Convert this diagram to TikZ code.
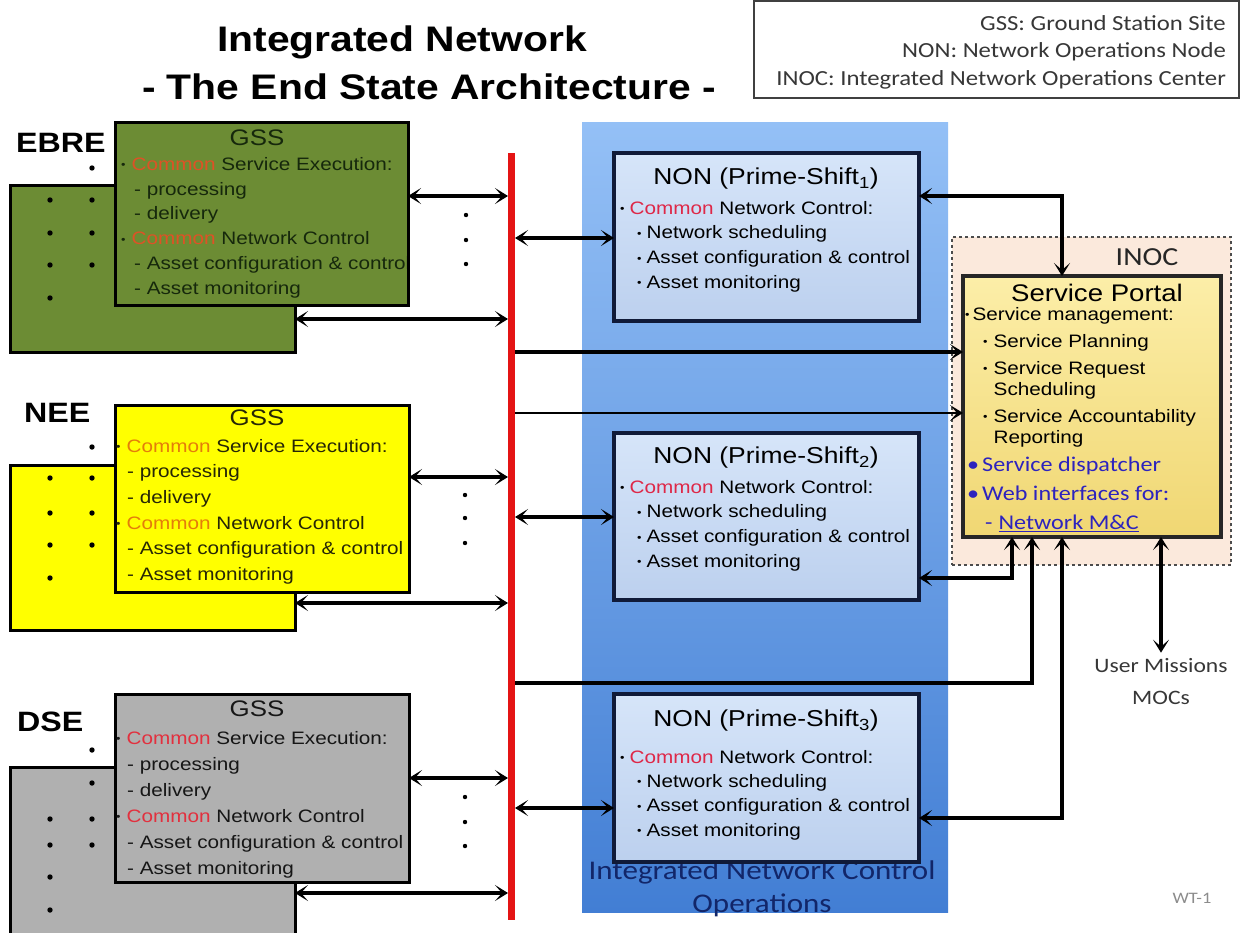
\documentclass[tikz,border=0pt]{standalone}
\usepackage{fontspec}
\setmainfont{Liberation Sans}[FakeStretch=1.15]
\newfontfamily\carl{Carlito}[FakeStretch=1.15]
\usetikzlibrary{arrows.meta,calc}
\definecolor{gssgreen}{RGB}{108,140,52}
\definecolor{gssyellow}{RGB}{255,255,0}
\definecolor{gssgray}{RGB}{176,176,176}
\definecolor{busred}{RGB}{228,20,20}
\definecolor{paneltop}{RGB}{148,192,246}
\definecolor{panelbot}{RGB}{66,126,212}
\definecolor{nontop}{RGB}{214,229,249}
\definecolor{nonbot}{RGB}{188,208,238}
\definecolor{nonedge}{RGB}{16,26,56}
\definecolor{inocfill}{RGB}{251,233,220}
\definecolor{porttop}{RGB}{252,238,168}
\definecolor{portbot}{RGB}{240,215,115}
\definecolor{linkblue}{RGB}{45,35,190}
\definecolor{panelink}{RGB}{18,38,105}
\definecolor{cmnA}{RGB}{222,82,38}
\definecolor{cmnB}{RGB}{228,125,10}
\definecolor{cmnC}{RGB}{226,48,62}
\definecolor{cmnN}{RGB}{222,40,72}
\definecolor{txtA}{RGB}{22,40,12}
\definecolor{txtB}{RGB}{38,38,6}
\definecolor{txtC}{RGB}{22,22,22}
\definecolor{greytxt}{RGB}{55,55,55}
\newcommand{\bul}{\raisebox{1.6pt}{\fontsize{11}{11}\selectfont\textbullet}}
\newcommand{\cmn}[1]{\textcolor{#1}{Common}}
\begin{document}
\begin{tikzpicture}[x=1pt,y=-1pt,
  box/.style={anchor=north west,inner sep=0pt,outer sep=0pt},
  gssbox/.style={box,draw=black,line width=3pt},
  nonbox/.style={box,draw=nonedge,line width=3.4pt,top color=nontop,bottom color=nonbot},
  gsstxt/.style={anchor=north west,align=left,inner sep=0pt},
  tip/.tip={Stealth[length=13pt,width=16pt,inset=7pt]},
  link/.style={line width=3.2pt,-tip},
  dlink/.style={line width=3.2pt,tip-tip},
  dotm/.style={fill=black}]
\useasboundingbox (0,0) rectangle (1247,932);
\fill[white] (0,0) rectangle (1247,932);

% blue panel
\node[box,minimum width=366pt,minimum height=790pt,top color=paneltop,bottom color=panelbot] (panel) at (582,122) {};
\node[font=\carl\fontsize{27}{33}\selectfont,text=panelink,align=center,inner sep=0pt] (ptext) at (762,889) {Integrated Network Control\\Operations};

% INOC
\node[box,draw=black!70,dashed,line width=1.3pt,fill=inocfill,minimum width=279pt,minimum height=328pt] (inoc) at (952,237) {};
\node[font=\carl\fontsize{26}{30}\selectfont,text=black!85] (inoclbl) at (1147,257) {INOC};

% legend
\node[box,draw=black!75,line width=1.5pt,minimum width=485pt,minimum height=97pt] (legend) at (754,1) {};
\node[anchor=north east,align=right,inner sep=0pt,font=\carl\fontsize{21.5}{27.5}\selectfont,text=greytxt] (legtxt) at (1226,15) {GSS: Ground Station Site\\NON: Network Operations Node\\INOC: Integrated Network Operations Center};

% title
\node[font=\bfseries\fontsize{35.5}{40}\selectfont] (title1) at (402,42) {Integrated Network};
\node[font=\bfseries\fontsize{35.5}{40}\selectfont] (title2) at (429,87) {- The End State Architecture -};

% labels
\node[anchor=west,inner sep=0pt,font=\bfseries\fontsize{28}{30}\selectfont] (ebre) at (16,143) {EBRE};
\node[anchor=west,inner sep=0pt,font=\bfseries\fontsize{28}{30}\selectfont] (nee) at (24,413) {NEE};
\node[anchor=west,inner sep=0pt,font=\bfseries\fontsize{28}{30}\selectfont] (dse) at (17,722) {DSE};

% bus
\node[anchor=north,inner sep=0pt,outer sep=0pt,fill=busred,minimum width=7pt,minimum height=767pt] (bus) at (511.5,153) {};

% GSS back boxes
\node[gssbox,fill=gssgreen,minimum width=285pt,minimum height=167pt] (ebreB) at (10,185) {};
\node[gssbox,fill=gssyellow,minimum width=285pt,minimum height=165pt] (neeB) at (10,465) {};
\node[gssbox,fill=gssgray,minimum width=285pt,minimum height=172pt] (dseB) at (10,767) {};

% dots
\foreach \p in {(92,168),(50,200),(92,200),(50,233),(92,233),(50,265),(92,265),(50,298),
                (92,447),(50,478),(92,478),(50,513),(92,513),(50,545),(92,545),(50,578),
                (92,750),(92,783),(50,819),(92,819),(50,845),(92,845),(50,877),(50,910)}
  \fill[dotm] \p circle (2.7);
\foreach \p in {(466,215),(466,240),(466,264),(465,495),(465,518),(465,543),(465,797),(465,822),(465,846)}
  \fill[dotm] \p circle (2.2);

% GSS front boxes
\node[gssbox,fill=gssgreen,minimum width=293pt,minimum height=183pt] (ebreF) at (115,122) {};
\node[gssbox,fill=gssyellow,minimum width=294pt,minimum height=187pt] (neeF) at (115,405) {};
\node[gssbox,fill=gssgray,minimum width=294pt,minimum height=188pt] (dseF) at (115,694) {};

\node[font=\fontsize{22.5}{26}\selectfont,text=txtA,inner sep=0pt] (ebreT) at (257,138) {GSS};
\node[font=\fontsize{22.5}{26}\selectfont,text=txtB,inner sep=0pt] (neeT) at (257,418) {GSS};
\node[font=\fontsize{22.5}{26}\selectfont,text=txtC,inner sep=0pt] (dseT) at (257,709) {GSS};

\begin{scope}
\clip (116,123) rectangle (406.5,304);
\node[gsstxt,font=\fontsize{18}{24.8}\selectfont,text=txtA] (ebreL) at (121,157)
 {\bul\hspace{6pt}\cmn{cmnA} Service Execution:\\\hspace*{13pt}- processing\\\hspace*{13pt}- delivery\\
  \bul\hspace{6pt}\cmn{cmnA} Network Control\\\hspace*{13pt}- Asset configuration \& control\\\hspace*{13pt}- Asset monitoring};
\end{scope}
\node[gsstxt,font=\fontsize{18}{25.6}\selectfont,text=txtB] (neeL) at (116,439)
 {\bul\hspace{6pt}\cmn{cmnB} Service Execution:\\\hspace*{11pt}- processing\\\hspace*{11pt}- delivery\\
  \bul\hspace{6pt}\cmn{cmnB} Network Control\\\hspace*{11pt}- Asset configuration \& control\\\hspace*{11pt}- Asset monitoring};
\node[gsstxt,font=\fontsize{18}{26}\selectfont,text=txtC] (dseL) at (116,731)
 {\bul\hspace{6pt}\cmn{cmnC} Service Execution:\\\hspace*{11pt}- processing\\\hspace*{11pt}- delivery\\
  \bul\hspace{6pt}\cmn{cmnC} Network Control\\\hspace*{11pt}- Asset configuration \& control\\\hspace*{11pt}- Asset monitoring};

% NON boxes
\node[nonbox,minimum width=305pt,minimum height=168pt] (non1) at (614,153) {};
\node[nonbox,minimum width=305pt,minimum height=167pt] (non2) at (614,433) {};
\node[nonbox,minimum width=305pt,minimum height=168pt] (non3) at (614,694) {};
\node[font=\fontsize{23}{26}\selectfont,inner sep=0pt] (non1t) at (766,179) {NON (Prime-Shift\textsubscript{1})};
\node[font=\fontsize{23}{26}\selectfont,inner sep=0pt] (non2t) at (766,458) {NON (Prime-Shift\textsubscript{2})};
\node[font=\fontsize{23}{26}\selectfont,inner sep=0pt] (non3t) at (766,721) {NON (Prime-Shift\textsubscript{3})};
\node[gsstxt,font=\fontsize{18}{24.7}\selectfont] (non1l) at (620,201)
 {\bul\hspace{5pt}\cmn{cmnN} Network Control:\\\hspace*{17pt}\bul\hspace{5pt}Network scheduling\\\hspace*{17pt}\bul\hspace{5pt}Asset configuration \& control\\\hspace*{17pt}\bul\hspace{5pt}Asset monitoring};
\node[gsstxt,font=\fontsize{18}{24.7}\selectfont] (non2l) at (620,480)
 {\bul\hspace{5pt}\cmn{cmnN} Network Control:\\\hspace*{17pt}\bul\hspace{5pt}Network scheduling\\\hspace*{17pt}\bul\hspace{5pt}Asset configuration \& control\\\hspace*{17pt}\bul\hspace{5pt}Asset monitoring};
\node[gsstxt,font=\fontsize{18}{24.3}\selectfont] (non3l) at (620,750)
 {\bul\hspace{5pt}\cmn{cmnN} Network Control:\\\hspace*{17pt}\bul\hspace{5pt}Network scheduling\\\hspace*{17pt}\bul\hspace{5pt}Asset configuration \& control\\\hspace*{17pt}\bul\hspace{5pt}Asset monitoring};

% Service portal
\node[box,draw=black!85,line width=3.4pt,top color=porttop,bottom color=portbot,minimum width=258pt,minimum height=261pt] (portal) at (963,276) {};
\node[font=\fontsize{24}{28}\selectfont,inner sep=0pt] (portt) at (1097,293) {Service Portal};
\node[gsstxt,font=\fontsize{18}{21}\selectfont] (portl1) at (965,307) {\bul\hspace{3pt}Service management:};
\node[gsstxt,font=\fontsize{18}{21}\selectfont] (portl2) at (983,334)
 {\bul\hspace{6pt}Service Planning\\[6pt]\bul\hspace{6pt}Service Request\\\hspace*{10.5pt}Scheduling\\[6pt]\bul\hspace{6pt}Service Accountability\\\hspace*{10.5pt}Reporting};
\node[gsstxt,font=\carl\fontsize{21}{29}\selectfont,text=linkblue] (portl3) at (967,457)
 {\textbullet\hspace{3pt}Service dispatcher\\\textbullet\hspace{3pt}Web interfaces for:\\\hspace*{18pt}-\hspace{6pt}\underline{Network M\&C}};

% user missions, WT-1
\node[font=\carl\fontsize{20.5}{32}\selectfont,text=greytxt,align=center,inner sep=6pt] (user) at (1161,682) {User Missions\\MOCs};
\node[font=\carl\fontsize{16}{18}\selectfont,text=black!45,inner sep=0pt] (wt) at (1192,898) {WT-1};

% y levels
\coordinate (yE1) at (0,196);  \coordinate (yE2) at (0,319);
\coordinate (yN1) at (0,477);  \coordinate (yN2) at (0,603);
\coordinate (yD1) at (0,778);  \coordinate (yD2) at (0,893);
\coordinate (yA) at (0,238);   \coordinate (yB) at (0,352);
\coordinate (yC) at (0,413);   \coordinate (yF) at (0,517);
\coordinate (yG) at (0,683);   \coordinate (yH) at (0,808);
\coordinate (kT) at (1062,196);
\coordinate (k2) at (1012,578);
\coordinate (kB) at (1032,683);
\coordinate (k3) at (1062,818);

% connectors
\draw[dlink] (ebreF.east |- yE1) -- (bus.west |- yE1);
\draw[dlink] (ebreB.east |- yE2) -- (bus.west |- yE2);
\draw[dlink] (neeF.east |- yN1) -- (bus.west |- yN1);
\draw[dlink] (neeB.east |- yN2) -- (bus.west |- yN2);
\draw[dlink] (dseF.east |- yD1) -- (bus.west |- yD1);
\draw[dlink] (dseB.east |- yD2) -- (bus.west |- yD2);
\draw[dlink] (bus.east |- yA) -- (non1.west |- yA);
\draw[dlink] (bus.east |- yF) -- (non2.west |- yF);
\draw[dlink] (bus.east |- yH) -- (non3.west |- yH);
\draw[link] (bus.east |- yB) -- (portal.west |- yB);
\draw[link,line width=2.3pt] (bus.east |- yC) -- (portal.west |- yC);
\draw[link] (bus.east |- yG) -| (portal.south -| kB);
\draw[dlink] (non1.east |- kT) -| (portal.north -| kT);
\draw[dlink] (non2.east |- k2) -| (portal.south -| k2);
\draw[dlink] (non3.east |- k3) -| (portal.south -| k3);
\draw[dlink] (portal.south -| user.north) -- (user.north);
\end{tikzpicture}
\end{document}
